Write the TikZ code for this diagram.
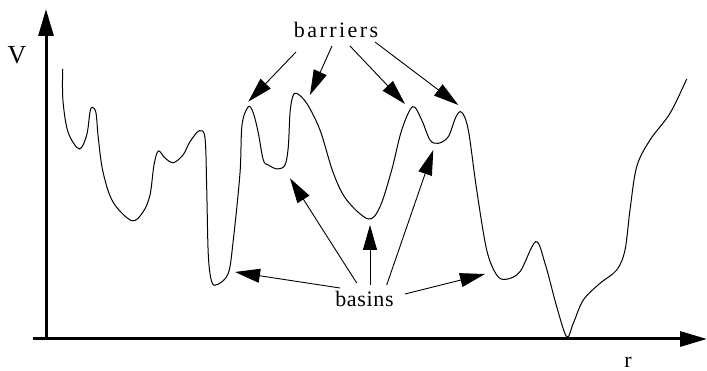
\documentclass[tikz,border=0pt]{standalone}
\usepackage{fontspec}
\setmainfont{Liberation Serif}
\usetikzlibrary{arrows.meta}
\begin{document}
\begin{tikzpicture}[x=1pt,y=-1pt,
  axisline/.style={line width=3pt,-{Triangle[length=27pt,width=15pt]}},
  pointer/.style={line width=0.9pt,-{Triangle[length=25pt,width=14pt]}},
  curve/.style={line width=1pt},
  lbl/.style={inner sep=0pt,font=\fontsize{22}{24}\selectfont}]
\useasboundingbox (0,0) rectangle (707,371);
% axes
\coordinate (xs) at (33,339);
\coordinate (xe) at (707,339);
\coordinate (ys) at (46,338.5);
\coordinate (ye) at (46,9);
\draw[axisline] (ys) -- (ye);
\draw[axisline] (xs) -- (xe);
\node[lbl,font=\fontsize{26}{28}\selectfont,anchor=base] (V) at (17,64) {V};
\node[lbl,anchor=base] (r) at (628,367) {r};
% potential curve
\draw[curve] plot[smooth,tension=0.55] coordinates {
(62.7,69) (62.9,100) (68,132) (79.3,149) (86.7,135) (90,112) (92.3,107.3) (96,113)
(98.3,138) (103,172) (113,202) (131.7,220.7) (143,212) (150,195) (154,165) (158.3,151)
(165,158) (173.3,162.7) (183,155) (190,141.7) (199.3,130.7) (205,138) (206.7,188)
(208.3,255) (211.7,281.7) (217.5,284.5) (228.3,273.3) (233.3,240) (240,173) (242,125)
(248.3,106.7) (253.3,113) (258.3,133) (263.3,160) (268.3,165) (277.3,169)
(285,165) (288.3,146.7) (290,113) (292.7,96.7) (296.7,93.3) (306.7,103.3) (320,130)
(333.3,173) (346.7,200) (368.3,219) (380,206.7) (391.7,170) (401.7,130) (412.7,106.7)
(421.7,120) (430,140) (438.3,143.3) (448.3,136.7) (456,116.7) (461.7,112.3) (468.3,130)
(476.7,190) (486.7,250) (496.7,275) (506,279.3) (520,271.7) (535.7,241.7) (545,263.3)
(556.7,306.7) (566.7,336.7) (573.3,323.3) (583.3,300) (600,283.3) (616.7,270) (625,250)
(630,210) (636.7,166.7) (650,140) (670,113.3) (686.7,79)};
% labels
\node[lbl,anchor=base] (barriers) at (336,38) {\addfontfeature{LetterSpace=11}barriers};
\node[lbl,anchor=base] (basins) at (364.5,307) {\addfontfeature{LetterSpace=3}basins};
% barrier arrows
\coordinate (b1s) at (296,52);   \coordinate (b1t) at (248.3,101.7);
\coordinate (b2s) at (332,46);   \coordinate (b2t) at (310,95);
\coordinate (b3s) at (350,46);   \coordinate (b3t) at (405,104);
\coordinate (b4s) at (375,42);   \coordinate (b4t) at (458.3,105);
\draw[pointer] (b1s) -- (b1t);
\draw[pointer] (b2s) -- (b2t);
\draw[pointer] (b3s) -- (b3t);
\draw[pointer] (b4s) -- (b4t);
% basin arrows
\coordinate (a1s) at (340,288);   \coordinate (a1t) at (235,272);
\coordinate (a2s) at (356.7,283); \coordinate (a2t) at (290,178.3);
\coordinate (a3s) at (370,285);   \coordinate (a3t) at (370,225);
\coordinate (a4s) at (386.7,285); \coordinate (a4t) at (433.3,150);
\coordinate (a5s) at (405,294);   \coordinate (a5t) at (485,274);
\draw[pointer] (a1s) -- (a1t);
\draw[pointer] (a2s) -- (a2t);
\draw[pointer] (a3s) -- (a3t);
\draw[pointer] (a4s) -- (a4t);
\draw[pointer] (a5s) -- (a5t);
\end{tikzpicture}
\end{document}
